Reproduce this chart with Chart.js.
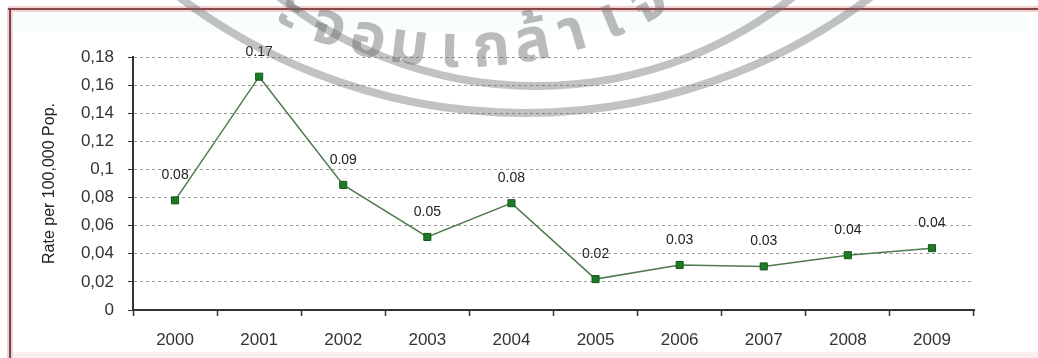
<!DOCTYPE html>
<html>
<head>
<meta charset="utf-8">
<script src="https://cdn.jsdelivr.net/npm/chart.js@4/dist/chart.umd.min.js"></script>
<style>
  html, body { margin: 0; padding: 0; background: #ffffff; }
  #wrap { width: 1038px; height: 358px; position: relative; }
</style>
</head>
<body>
<div id="wrap"><canvas id="c" width="1038" height="358"></canvas></div>
<script>
// Incidence rate per 100,000 population, by year
const years = ['2000', '2001', '2002', '2003', '2004', '2005', '2006', '2007', '2008', '2009'];
const rates = [0.078, 0.166, 0.089, 0.052, 0.076, 0.022, 0.032, 0.031, 0.039, 0.044];
const yTicks = [0, 0.02, 0.04, 0.06, 0.08, 0.1, 0.12, 0.14, 0.16, 0.18];
const axisTitle = 'Rate per 100,000 Pop.';
// Seal lettering running along the arc of the watermark
const sealClusters = ['ะ', 'จ', 'อ', 'ม', 'เ', 'ก', 'ล้', 'า', 'เ', 'จ้', 'า'];

const FONT = '"Liberation Sans", Arial, sans-serif';

// Page frame: brownish-red rule on top and left, soft pink band at the foot
const framePlugin = {
  id: 'frame',
  beforeDraw(chart) {
    const ctx = chart.ctx;
    ctx.save();
    ctx.fillStyle = '#ffffff';
    ctx.fillRect(0, 0, chart.width, chart.height);
    ctx.fillStyle = 'rgba(236,250,250,0.35)';
    ctx.fillRect(12, 12, 1016, 20);
    ctx.fillStyle = '#fbeef0';
    ctx.fillRect(11, 352, 1027, 6);
    ctx.fillStyle = '#f2d2d2';
    ctx.fillRect(8, 6, 1030, 6);
    ctx.fillRect(7, 8, 6, 350);
    ctx.fillStyle = '#8a4646';
    ctx.fillRect(8, 8, 1030, 2);
    ctx.fillStyle = '#704848';
    ctx.fillRect(9, 8, 2, 350);
    ctx.restore();
  }
};

// Value labels above each marker
const valueLabels = {
  id: 'valueLabels',
  afterDatasetsDraw(chart) {
    const ctx = chart.ctx;
    const meta = chart.getDatasetMeta(0);
    ctx.save();
    ctx.font = '14px ' + FONT;
    ctx.fillStyle = '#222222';
    ctx.textAlign = 'center';
    ctx.textBaseline = 'middle';
    meta.data.forEach((pt, i) => {
      ctx.fillText(rates[i].toFixed(2), pt.x, pt.y - 25);
    });
    ctx.restore();
  }
};

// Faint grey seal watermark laid over the chart
const watermark = {
  id: 'watermark',
  afterDraw(chart) {
    const ctx = chart.ctx;
    ctx.save();
    ctx.strokeStyle = 'rgba(110,110,110,0.42)';
    ctx.lineWidth = 8;
    ctx.beginPath();
    ctx.arc(536, -329, 415, 0, Math.PI);
    ctx.stroke();
    ctx.beginPath();
    ctx.arc(525, -460, 573, 0, Math.PI);
    ctx.stroke();

    // letters centred on a circle, upright towards its centre
    ctx.fillStyle = 'rgba(105,105,105,0.45)';
    ctx.font = 'bold 60px "Noto Sans Thai", "Noto Sans", sans-serif';
    ctx.textAlign = 'center';
    ctx.textBaseline = 'alphabetic';
    const cx = 460, cy = -348, R = 400;
    const step = 41.5;
    sealClusters.forEach((ch, i) => {
      const arcPos = -176 + i * step;
      const theta = Math.PI / 2 - arcPos / R;
      const x = cx + R * Math.cos(theta);
      const y = cy + R * Math.sin(theta);
      ctx.save();
      ctx.translate(x, y);
      ctx.rotate(theta - Math.PI / 2);
      ctx.fillText(ch, 0, 15);
      ctx.restore();
    });
    ctx.restore();
  }
};

new Chart(document.getElementById('c'), {
  type: 'line',
  data: {
    labels: years,
    datasets: [{
      data: rates,
      borderColor: '#4f7a4f',
      borderWidth: 1.5,
      pointStyle: 'rect',
      pointRadius: 5,
      pointBackgroundColor: '#1f7a28',
      pointBorderColor: '#125a18',
      pointBorderWidth: 1,
      tension: 0,
      fill: false
    }]
  },
  options: {
    responsive: false,
    animation: false,
    devicePixelRatio: 1,
    layout: { padding: { left: 0, right: 64, top: 57, bottom: 0 } },
    plugins: { legend: { display: false }, tooltip: { enabled: false }, title: { display: false } },
    scales: {
      x: {
        offset: true,
        grid: { offset: true, drawOnChartArea: false, drawTicks: true, tickLength: 6, tickColor: '#333333', tickWidth: 1.5 },
        border: { display: true, color: '#333333', width: 2 },
        ticks: { color: '#333333', font: { size: 17, family: FONT }, padding: 14, maxRotation: 0, autoSkip: false },
        afterFit: s => { s.height = 48; }
      },
      y: {
        min: 0,
        max: 0.18,
        afterBuildTicks: s => { s.ticks = yTicks.map(v => ({ value: v })); },
        afterFit: s => { s.width = 133; },
        ticks: {
          color: '#333333',
          font: { size: 17, family: FONT },
          padding: 14,
          callback: v => (v === 0 ? '0' : String(Number(v.toFixed(2))).replace('.', ','))
        },
        grid: { color: '#9a9a9a', lineWidth: 1, tickLength: 5, tickColor: '#333333', tickWidth: 1, tickBorderDash: [] },
        border: { display: true, color: '#333333', width: 2, dash: [3, 3] },
        title: {
          display: true,
          text: axisTitle,
          color: '#222222',
          font: { size: 16, family: FONT },
          padding: { top: 40, bottom: 0 }
        }
      }
    }
  },
  plugins: [framePlugin, valueLabels, watermark]
});
</script>
</body>
</html>
